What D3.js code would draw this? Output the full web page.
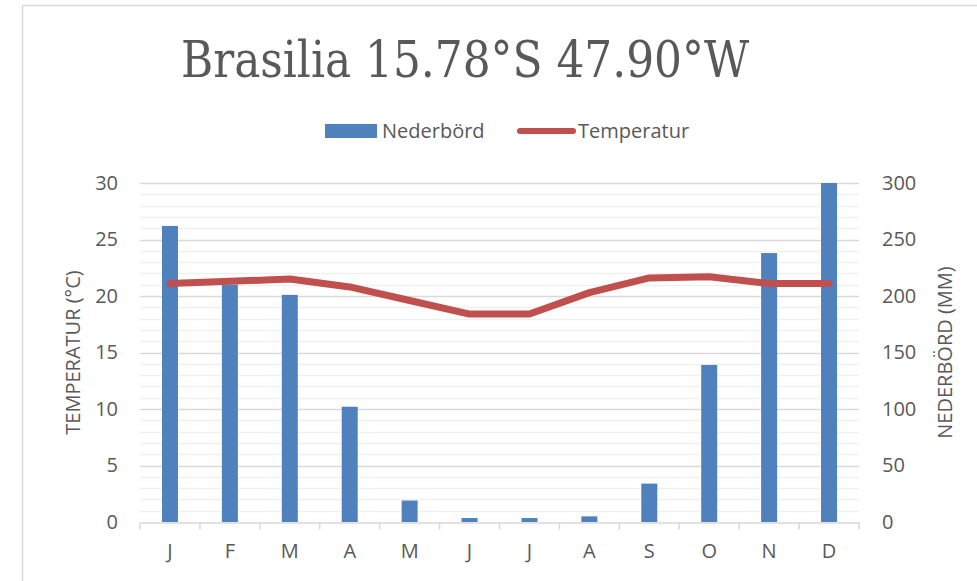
<!DOCTYPE html>
<html>
<head>
<meta charset="utf-8">
<script src="https://cdn.jsdelivr.net/npm/d3@7"></script>
<style>
  body { margin: 0; background: #fff; }
  svg text { font-family: "Open Sans", sans-serif; fill: #595959; }
</style>
</head>
<body>
<svg id="chart"></svg>
<script>
// data
const months = ["J", "F", "M", "A", "M", "J", "J", "A", "S", "O", "N", "D"];
const nederbord = [262, 210, 201, 102, 19, 3.5, 3.5, 5, 34, 139, 238, 300];
const temperatur = [21.1, 21.3, 21.5, 20.8, 19.6, 18.4, 18.4, 20.3, 21.6, 21.7, 21.1, 21.1];
const tempTicks = [0, 5, 10, 15, 20, 25, 30];
const rainTicks = [0, 50, 100, 150, 200, 250, 300];

const W = 977, H = 581;
const margin = {top: 183, right: 118, bottom: 59, left: 140};
const blue = "#4f81bd", red = "#c0504d";

const svg = d3.select("#chart").attr("width", W).attr("height", H);

// frame
svg.append("path")
  .attr("d", `M22.5,${H} V5.5 H${W}`)
  .attr("fill", "none").attr("stroke", "#d9d9d9").attr("stroke-width", 1.5);

const x = d3.scaleBand().domain(d3.range(months.length)).range([margin.left, W - margin.right]);
const yT = d3.scaleLinear().domain([0, 30]).range([H - margin.bottom, margin.top]);
const yR = d3.scaleLinear().domain([0, 300]).range([H - margin.bottom, margin.top]);

// minor grid lines
svg.append("g").selectAll("line")
  .data(d3.range(0, 31).filter(d => d % 5 != 0))
  .join("line")
  .attr("x1", margin.left).attr("x2", W - margin.right)
  .attr("y1", d => Math.round(yT(d)) + 0.5).attr("y2", d => Math.round(yT(d)) + 0.5)
  .attr("stroke", "#f0f0f0").attr("stroke-width", 1.5);

// major grid lines
svg.append("g").selectAll("line")
  .data(tempTicks.slice(1))
  .join("line")
  .attr("x1", margin.left).attr("x2", W - margin.right)
  .attr("y1", d => Math.round(yT(d)) + 0.5).attr("y2", d => Math.round(yT(d)) + 0.5)
  .attr("stroke", "#d9d9d9").attr("stroke-width", 1.5);

// x axis
const xAxis = svg.append("g")
  .attr("transform", `translate(0,${Math.round(yT(0)) + 0.5})`)
  .call(d3.axisBottom(x).tickSize(0).tickFormat(i => months[i]).tickPadding(21));
xAxis.select(".domain").attr("stroke", "#d9d9d9").attr("stroke-width", 1.5);
xAxis.selectAll("text").style("font-size", "20px").attr("fill", "#595959");
xAxis.selectAll(".sep")
  .data(d3.range(months.length + 1))
  .join("line")
  .attr("class", "sep")
  .attr("x1", i => (i < months.length ? x(i) : x.range()[1]))
  .attr("x2", i => (i < months.length ? x(i) : x.range()[1]))
  .attr("y1", 0).attr("y2", 7)
  .attr("stroke", "#d9d9d9").attr("stroke-width", 1.5);

// left axis
const left = svg.append("g")
  .attr("transform", `translate(${margin.left},0)`)
  .call(d3.axisLeft(yT).tickValues(tempTicks).tickSize(0).tickPadding(22));
left.select(".domain").remove();
left.selectAll("text").style("font-size", "20px").attr("fill", "#595959");

// right axis
const right = svg.append("g")
  .attr("transform", `translate(${W - margin.right},0)`)
  .call(d3.axisRight(yR).tickValues(rainTicks).tickSize(0).tickPadding(23));
right.select(".domain").remove();
right.selectAll("text").style("font-size", "20px").attr("fill", "#595959");

// bars
const bw = 16;
svg.append("g").selectAll("rect")
  .data(nederbord)
  .join("rect")
  .attr("x", (d, i) => x(i) + x.bandwidth() / 2 - bw / 2)
  .attr("width", bw)
  .attr("y", d => yR(d))
  .attr("height", d => yR(0) - yR(d))
  .attr("fill", blue);

// temperature line
const line = d3.line()
  .x((d, i) => x(i) + x.bandwidth() / 2)
  .y(d => yT(d));
svg.append("path")
  .datum(temperatur)
  .attr("d", line)
  .attr("fill", "none")
  .attr("stroke", red)
  .attr("stroke-width", 7)
  .attr("stroke-linecap", "round")
  .attr("stroke-linejoin", "round");

// title
svg.append("text")
  .attr("x", 465).attr("y", 77)
  .attr("text-anchor", "middle")
  .attr("textLength", 568)
  .attr("lengthAdjust", "spacingAndGlyphs")
  .style("font-family", "'DejaVu Serif Condensed', 'DejaVu Serif', serif")
  .style("font-size", "50px")
  .text("Brasilia 15.78°S 47.90°W");

// legend
const lg = svg.append("g");
lg.append("rect").attr("x", 325).attr("y", 124).attr("width", 52).attr("height", 14).attr("fill", blue);
lg.append("text").attr("x", 382).attr("y", 138).style("font-size", "20px").text("Nederbörd");
lg.append("line").attr("x1", 520).attr("x2", 573).attr("y1", 131).attr("y2", 131)
  .attr("stroke", red).attr("stroke-width", 6).attr("stroke-linecap", "round");
lg.append("text").attr("x", 578).attr("y", 138).style("font-size", "20px").text("Temperatur");

// axis titles
svg.append("text")
  .attr("transform", `translate(80,${(yT(0) + yT(30)) / 2}) rotate(-90)`)
  .attr("text-anchor", "middle")
  .style("font-size", "20px")
  .text("TEMPERATUR (°C)");
svg.append("text")
  .attr("transform", `translate(952,${(yT(0) + yT(30)) / 2}) rotate(-90)`)
  .attr("text-anchor", "middle")
  .style("font-size", "20px")
  .text("NEDERBÖRD (MM)");
</script>
</body>
</html>
